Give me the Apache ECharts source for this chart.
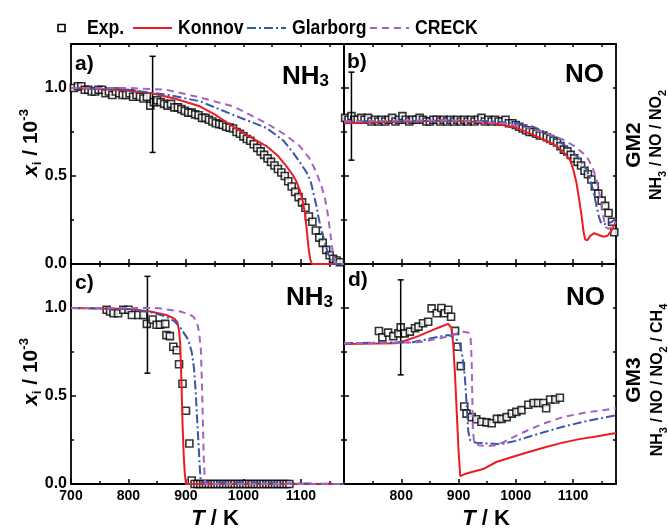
<!DOCTYPE html>
<html><head><meta charset="utf-8">
<script src="https://cdn.jsdelivr.net/npm/echarts@6/dist/echarts.min.js"></script>
<style>html,body{margin:0;padding:0;background:#fff}#c{width:668px;height:528px}</style>
</head><body><div id="c"></div>
<script>
// ---------------- data ----------------
const X_TICKS = [700, 800, 900, 1000, 1100];
const Y_TICKS = [0.0, 0.5, 1.0];

// panel a: NH3, GM2
const EXP_A_T = [705,712,718,724,730,736,742,748,754,760,766,772,778,784,790,796,802,808,814,820,826,832,838,844,850,856,862,868,874,880,886,892,898,904,910,916,922,928,934,940,946,952,958,964,970,976,982,988,994,1000,1006,1012,1018,1024,1030,1036,1042,1048,1054,1060,1066,1072,1078,1084,1090,1096,1102,1108,1114,1120,1126,1132,1138,1144,1150,1156,1162,1168];
const EXP_A_V = [1.00,1.01,1.01,0.99,0.99,0.98,0.98,0.99,0.99,0.97,0.98,0.96,0.98,0.97,0.96,0.96,0.97,0.95,0.96,0.95,0.94,0.95,0.90,0.92,0.93,0.92,0.91,0.90,0.91,0.89,0.89,0.88,0.87,0.86,0.86,0.85,0.845,0.83,0.83,0.82,0.81,0.80,0.795,0.79,0.78,0.775,0.77,0.75,0.74,0.725,0.71,0.70,0.68,0.66,0.64,0.62,0.60,0.58,0.56,0.54,0.52,0.50,0.47,0.44,0.41,0.38,0.35,0.32,0.27,0.24,0.19,0.15,0.12,0.08,0.05,0.03,0.02,0.01];
const KONNOV_A = [[700,1.0],[750,0.995],[800,0.985],[840,0.97],[880,0.94],[924,0.896],[950,0.85],[982,0.78],[1010,0.725],[1040,0.67],[1060,0.615],[1075,0.555],[1085,0.51],[1092,0.47],[1098,0.42],[1103,0.36],[1107,0.29],[1110,0.2],[1113,0.1],[1116,0.03],[1119,0.0],[1175,0.0]];
const GLARBORG_A = [[700,1.0],[800,0.99],[870,0.96],[924,0.925],[980,0.85],[1040,0.773],[1070,0.70],[1087,0.63],[1100,0.57],[1110,0.52],[1117,0.47],[1122,0.40],[1127,0.33],[1131,0.26],[1136,0.19],[1142,0.12],[1147,0.06],[1152,0.02],[1158,0.0],[1175,0.0]];
const CRECK_A = [[700,1.0],[800,1.0],[866,0.99],[920,0.95],[982,0.896],[1040,0.80],[1070,0.74],[1098,0.67],[1115,0.60],[1127,0.52],[1136,0.44],[1142,0.37],[1147,0.28],[1151,0.18],[1154,0.10],[1157,0.04],[1162,0.0],[1175,0.0]];
const ERR_A = [[842, 0.907, 0.273]];

// panel b: NO, GM2
const EXP_B_T = [702,708,713,718,724,730,736,742,748,754,760,766,772,778,784,790,796,802,808,814,820,826,832,838,844,850,856,862,868,874,880,886,892,898,904,910,916,922,928,934,940,946,952,958,964,970,976,982,988,994,1000,1006,1012,1018,1024,1030,1036,1042,1048,1054,1060,1066,1072,1078,1084,1090,1096,1102,1108,1114,1120,1126,1132,1138,1144,1150,1156,1162,1168,1172];
const EXP_B_V = [0.83,0.82,0.84,0.82,0.82,0.83,0.82,0.83,0.81,0.82,0.81,0.82,0.81,0.82,0.83,0.81,0.82,0.84,0.82,0.81,0.82,0.82,0.83,0.82,0.81,0.81,0.82,0.82,0.81,0.82,0.81,0.82,0.81,0.82,0.81,0.82,0.81,0.82,0.81,0.82,0.83,0.81,0.82,0.81,0.82,0.81,0.81,0.82,0.80,0.80,0.79,0.78,0.77,0.76,0.75,0.75,0.74,0.73,0.73,0.72,0.71,0.70,0.69,0.67,0.65,0.64,0.62,0.60,0.58,0.56,0.53,0.51,0.48,0.44,0.40,0.36,0.33,0.29,0.24,0.18];
const KONNOV_B = [[700,0.80],[760,0.805],[820,0.81],[870,0.815],[920,0.81],[960,0.80],[1000,0.775],[1036,0.725],[1060,0.69],[1071,0.67],[1085,0.63],[1095,0.59],[1101,0.53],[1106,0.46],[1111,0.36],[1115,0.27],[1118,0.19],[1121,0.14],[1125,0.135],[1130,0.16],[1137,0.175],[1145,0.165],[1153,0.155],[1160,0.16],[1167,0.19],[1175,0.24]];
const GLARBORG_B = [[700,0.81],[800,0.81],[900,0.815],[960,0.81],[1000,0.80],[1030,0.78],[1054,0.745],[1075,0.70],[1095,0.65],[1110,0.60],[1124,0.535],[1130,0.48],[1135,0.42],[1141,0.33],[1145,0.27],[1148,0.24],[1152,0.225],[1160,0.23],[1168,0.24],[1175,0.26]];
const CRECK_B = [[700,0.81],[800,0.815],[900,0.815],[980,0.80],[1025,0.77],[1055,0.74],[1083,0.706],[1105,0.665],[1124,0.61],[1134,0.55],[1141,0.48],[1146,0.40],[1150,0.33],[1154,0.25],[1157,0.21],[1162,0.20],[1168,0.21],[1175,0.24]];
const ERR_B = [[713, 0.84, 0.25]];

// panel c: NH3, GM3
const EXP_C_T = [762,768,774,782,791,800,806,817,826,832,842,849,855,864,866,872,878,884,888,894,900,906,910,915,920,925,930,935,940,945,950,955,960,965,970,975,980,985,990,995,1000,1005,1010,1015,1020,1025,1030,1035,1040,1045,1050,1055,1060,1065,1070,1075,1080];
const EXP_C_V = [0.99,0.98,0.97,0.97,0.99,0.99,0.96,0.96,0.96,0.91,0.935,0.905,0.905,0.91,0.846,0.84,0.78,0.76,0.68,0.57,0.416,0.23,0.02,0,0,0,0,0,0,0,0,0,0,0,0,0,0,0,0,0,0,0,0,0,0,0,0,0,0,0,0,0,0,0,0,0,0];
const KONNOV_C = [[700,1.0],[800,0.995],[838,0.98],[866,0.96],[880,0.94],[885,0.92],[888,0.87],[890,0.80],[892,0.60],[894,0.35],[896,0.17],[898,0.06],[900,0.0],[1175,0.0]];
const GLARBORG_C = [[700,1.0],[800,0.995],[840,0.975],[866,0.95],[880,0.925],[890,0.89],[898,0.85],[904,0.82],[910,0.75],[914,0.66],[917,0.52],[920,0.34],[922.5,0.19],[924.5,0.07],[926,0.01],[928,0.0],[1175,0.0]];
const CRECK_C = [[700,1.0],[850,1.0],[890,0.98],[905,0.965],[913,0.95],[919,0.92],[923,0.86],[926,0.76],[928,0.55],[929.5,0.35],[931,0.15],[932.5,0.04],[934,0.0],[1175,0.0]];
const ERR_C = [[833, 0.905, 0.275]];

// panel d: NO, GM3
const EXP_D_T = [761,767,777,786,795,799,806,815,824,830,838,847,853,862,870,876,882,887,894,898,904,910,914,923,931,940,949,958,967,975,984,993,1001,1010,1022,1031,1039,1048,1053,1060,1069,1077];
const EXP_D_V = [0.869,0.833,0.86,0.84,0.856,0.89,0.856,0.866,0.885,0.894,0.913,0.922,0.998,0.97,1.0,0.97,0.99,0.95,0.87,0.78,0.67,0.44,0.40,0.38,0.368,0.354,0.35,0.345,0.37,0.37,0.38,0.40,0.41,0.42,0.45,0.46,0.46,0.46,0.43,0.48,0.48,0.49];
const KONNOV_D = [[700,0.795],[790,0.80],[808,0.815],[830,0.84],[848,0.866],[870,0.895],[882,0.91],[888,0.885],[891,0.78],[894,0.61],[897,0.40],[900,0.19],[903,0.045],[910,0.055],[920,0.065],[943,0.085],[966,0.125],[995,0.155],[1024,0.183],[1053,0.21],[1082,0.235],[1111,0.255],[1140,0.27],[1175,0.29]];
const GLARBORG_D = [[700,0.80],[820,0.805],[848,0.825],[870,0.84],[883,0.846],[894,0.83],[902,0.80],[907,0.72],[911,0.61],[914,0.46],[917,0.30],[920,0.25],[930,0.235],[945,0.232],[966,0.227],[980,0.23],[1000,0.245],[1024,0.27],[1050,0.295],[1082,0.325],[1120,0.355],[1175,0.39]];
const CRECK_D = [[700,0.80],[830,0.805],[848,0.815],[870,0.83],[890,0.845],[900,0.86],[908,0.865],[918,0.86],[921,0.84],[923,0.70],[924,0.50],[925,0.32],[927,0.24],[935,0.22],[950,0.215],[966,0.22],[980,0.24],[995,0.265],[1024,0.31],[1050,0.345],[1082,0.38],[1120,0.405],[1175,0.43]];
const ERR_D = [[799, 0.89, 0.27]];

const NAMES = ['Exp.', 'Konnov', 'Glarborg', 'CRECK'];

// ---------------- styling ----------------
const FONT = "'Liberation Sans', Arial, sans-serif";
const RED = '#ec1c24', BLUE = '#3a56a8', PURPLE = '#a462c2';
const DASH_G = [9, 3, 2, 3], DASH_C = [7, 5];
const AXW = 1.8;

const GRIDS = [
  {left: 71, top: 44, width: 273, height: 220},
  {left: 344, top: 44, width: 272, height: 220},
  {left: 71, top: 264, width: 273, height: 220},
  {left: 344, top: 264, width: 272, height: 220}
];

const xAxes = [], yAxes = [];
GRIDS.forEach((g, i) => {
  const bottomRow = i >= 2, leftCol = (i % 2 === 0);
  const base = {gridIndex: i, type: 'value', min: 700, max: 1175, splitLine: {show: false}};
  xAxes.push(Object.assign({}, base, {
    position: 'bottom', interval: 100,
    axisLine: {show: true, onZero: false, lineStyle: {color: '#000', width: AXW}},
    axisTick: {show: true, inside: true, length: 5, lineStyle: {color: '#000', width: 1.5}},
    axisLabel: {show: bottomRow, margin: 5, color: '#000', fontFamily: FONT, fontWeight: 'bold', fontSize: 14,
      formatter: v => (X_TICKS.indexOf(v) >= 0 && (leftCol || v !== 700)) ? String(v) : ''}
  }));
  xAxes.push(Object.assign({}, base, {
    position: 'bottom', interval: 50,
    axisLine: {show: false, onZero: false},
    axisTick: {show: true, inside: true, length: 3, lineStyle: {color: '#000', width: 1.5}},
    axisLabel: {show: false}
  }));
  xAxes.push(Object.assign({}, base, {
    position: 'top', interval: 50,
    axisLine: {show: true, onZero: false, lineStyle: {color: '#000', width: AXW}},
    axisTick: {show: true, inside: true, length: 3, lineStyle: {color: '#000', width: 1.5}},
    axisLabel: {show: false}
  }));
  const ybase = {gridIndex: i, type: 'value', min: 0, max: 1.25, splitLine: {show: false}};
  yAxes.push(Object.assign({}, ybase, {
    position: 'left', interval: 0.5,
    axisLine: {show: true, onZero: false, lineStyle: {color: '#000', width: AXW}},
    axisTick: {show: true, inside: true, length: 5, lineStyle: {color: '#000', width: 1.5}},
    axisLabel: {show: leftCol, margin: 4, color: '#000', fontFamily: FONT, fontWeight: 'bold', fontSize: 16,
      formatter: v => Y_TICKS.some(t => Math.abs(t - v) < 1e-9) ? v.toFixed(1) : ''}
  }));
  yAxes.push(Object.assign({}, ybase, {
    position: 'left', interval: 0.25,
    axisLine: {show: false, onZero: false},
    axisTick: {show: true, inside: true, length: 3, lineStyle: {color: '#000', width: 1.5}},
    axisLabel: {show: false}
  }));
  yAxes.push(Object.assign({}, ybase, {
    position: 'right', interval: 0.25,
    axisLine: {show: true, onZero: false, lineStyle: {color: '#000', width: AXW}},
    axisTick: {show: true, inside: true, length: 3, lineStyle: {color: '#000', width: 1.5}},
    axisLabel: {show: false}
  }));
});

const PANELS = [
  {t: EXP_A_T, v: EXP_A_V, k: KONNOV_A, g: GLARBORG_A, c: CRECK_A, e: ERR_A},
  {t: EXP_B_T, v: EXP_B_V, k: KONNOV_B, g: GLARBORG_B, c: CRECK_B, e: ERR_B},
  {t: EXP_C_T, v: EXP_C_V, k: KONNOV_C, g: GLARBORG_C, c: CRECK_C, e: ERR_C},
  {t: EXP_D_T, v: EXP_D_V, k: KONNOV_D, g: GLARBORG_D, c: CRECK_D, e: ERR_D}
];

const series = [];
PANELS.forEach((p, i) => {
  const ax = {xAxisIndex: 3 * i, yAxisIndex: 3 * i};
  series.push(Object.assign({
    name: 'err' + i, type: 'custom', data: p.e, z: 3, silent: true,
    encode: {x: 0, y: 1},
    renderItem: (params, api) => {
      const x = api.value(0), y = api.value(1), e = api.value(2);
      const a = api.coord([x, y + e]), b = api.coord([x, y - e]);
      const w = 3, st = {stroke: '#000', lineWidth: 1.5};
      return {type: 'group', children: [
        {type: 'line', shape: {x1: a[0], y1: a[1], x2: b[0], y2: b[1]}, style: st},
        {type: 'line', shape: {x1: a[0] - w, y1: a[1], x2: a[0] + w, y2: a[1]}, style: st},
        {type: 'line', shape: {x1: b[0] - w, y1: b[1], x2: b[0] + w, y2: b[1]}, style: st}
      ]};
    }
  }, ax));
  series.push(Object.assign({
    name: NAMES[0], type: 'scatter', symbol: 'rect', symbolSize: 7, z: 2,
    itemStyle: {color: '#fff', borderColor: '#000', borderWidth: 1.6},
    data: p.t.map((t, j) => [t, p.v[j]])
  }, ax));
  const line = (name, d, color, type) => Object.assign({
    name, type: 'line', data: d, symbol: 'none', showSymbol: false, z: 4,
    lineStyle: {color, width: 2, type}, itemStyle: {color}
  }, ax);
  series.push(line(NAMES[1], p.k, RED, 'solid'));
  series.push(line(NAMES[2], p.g, BLUE, DASH_G));
  series.push(line(NAMES[3], p.c, PURPLE, DASH_C));
});

function txt(x, y, text, rich, opts, extra) {
  return Object.assign({
    type: 'text', x, y, silent: true, z: 10,
    style: Object.assign({text, rich, fill: '#000', textAlign: 'center', textVerticalAlign: 'middle'}, opts || {})
  }, extra || {});
}
const B = {fontFamily: FONT, fontWeight: 'bold'};
const species = {m: Object.assign({fontSize: 26, lineHeight: 36, verticalAlign: 'bottom'}, B),
                 s: Object.assign({fontSize: 17, lineHeight: 17, verticalAlign: 'bottom'}, B)};
const letter = {l: Object.assign({fontSize: 21}, B)};
const yTitleRich = {
  i: Object.assign({fontSize: 21, fontStyle: 'italic', lineHeight: 26, verticalAlign: 'middle'}, B),
  sb: Object.assign({fontSize: 13, lineHeight: 13, verticalAlign: 'bottom'}, B),
  n: Object.assign({fontSize: 21, lineHeight: 26, verticalAlign: 'middle'}, B),
  sp: Object.assign({fontSize: 13, lineHeight: 13, verticalAlign: 'top'}, B)
};
const xTitleRich = {
  i: Object.assign({fontSize: 22, fontStyle: 'italic'}, B),
  n: Object.assign({fontSize: 22}, B)
};
const gmRich = {g: Object.assign({fontSize: 21}, B)};
const compRich = {
  n: Object.assign({fontSize: 16, lineHeight: 22, verticalAlign: 'middle'}, B),
  s: Object.assign({fontSize: 11, lineHeight: 11, verticalAlign: 'bottom'}, B)
};
const legRich = {l: Object.assign({fontSize: 21}, B)};
const R90 = {rotation: Math.PI / 2};
const LY = 28;

const graphic = [
  // legend
  {type: 'rect', x: 58, y: LY - 3.5, shape: {x: 0, y: 0, width: 7, height: 7}, style: {fill: '#fff', stroke: '#000', lineWidth: 1.6}, silent: true},
  txt(87, LY, '{l|' + NAMES[0] + '}', legRich, {textAlign: 'left'}, {scaleX: 0.84}),
  {type: 'line', shape: {x1: 133, y1: LY, x2: 172, y2: LY}, style: {stroke: RED, lineWidth: 2}, silent: true},
  txt(178, LY, '{l|' + NAMES[1] + '}', legRich, {textAlign: 'left'}, {scaleX: 0.84}),
  {type: 'line', shape: {x1: 247, y1: LY, x2: 286, y2: LY}, style: {stroke: BLUE, lineWidth: 2, lineDash: DASH_G}, silent: true},
  txt(292, LY, '{l|' + NAMES[2] + '}', legRich, {textAlign: 'left'}, {scaleX: 0.84}),
  {type: 'line', shape: {x1: 370, y1: LY, x2: 409, y2: LY}, style: {stroke: PURPLE, lineWidth: 2, lineDash: DASH_C}, silent: true},
  txt(415, LY, '{l|' + NAMES[3] + '}', legRich, {textAlign: 'left'}, {scaleX: 0.84}),
  // panel letters and species
  txt(75, 64, '{l|a)}', letter, {textAlign: 'left'}),
  txt(347, 62, '{l|b)}', letter, {textAlign: 'left'}),
  txt(75, 283, '{l|c)}', letter, {textAlign: 'left'}),
  txt(348, 280, '{l|d)}', letter, {textAlign: 'left'}),
  txt(329, 72, '{m|NH}{s|3}', species, {textAlign: 'right'}),
  txt(333, 293, '{m|NH}{s|3}', species, {textAlign: 'right'}),
  txt(604, 70, '{m|NO}', species, {textAlign: 'right'}),
  txt(605, 293, '{m|NO}', species, {textAlign: 'right'}),
  // axis titles
  txt(31, 143, '{i|x}{sb|i}{n| / 10}{sp|-3}', yTitleRich, null, R90),
  txt(31, 372, '{i|x}{sb|i}{n| / 10}{sp|-3}', yTitleRich, null, R90),
  txt(215, 519, '{i|T}{n| / K}', xTitleRich),
  txt(486, 519, '{i|T}{n| / K}', xTitleRich),
  // mixture labels
  txt(634, 145, '{g|GM2}', gmRich, null, R90),
  txt(657, 145, '{n|NH}{s|3}{n| / NO / NO}{s|2}', compRich, null, R90),
  txt(634, 380, '{g|GM3}', gmRich, null, R90),
  txt(658, 380, '{n|NH}{s|3}{n| / NO / NO}{s|2}{n| / CH}{s|4}', compRich, null, R90)
];

const chart = echarts.init(document.getElementById('c'), null, {renderer: 'canvas'});
chart.setOption({
  animation: false,
  backgroundColor: '#fff',
  grid: GRIDS,
  xAxis: xAxes,
  yAxis: yAxes,
  series,
  graphic
});
</script></body></html>
